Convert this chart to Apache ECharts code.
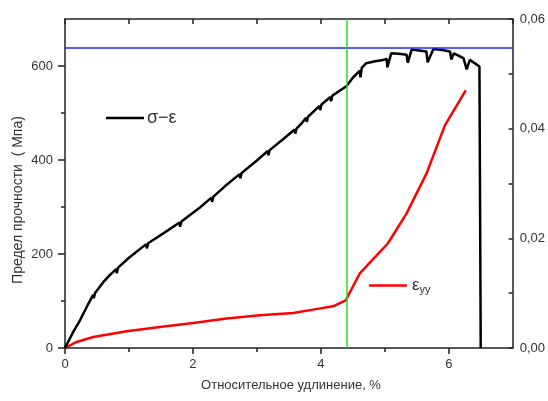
<!DOCTYPE html>
<html><head><meta charset="utf-8">
<script src="https://cdn.jsdelivr.net/npm/echarts@6/dist/echarts.min.js"></script>
<style>html,body{margin:0;padding:0;background:#fff}#c{width:548px;height:401px}</style>
</head><body><div id="c"></div>
<script>
// σ–ε curve (strain %, stress MPa)
const strainSigma = [0,0.12,0.234,0.35,0.44,0.45,0.47,0.598,0.70,0.80,0.81,0.83,1.0,1.27,1.28,1.30,1.55,1.79,1.80,1.82,2.11,2.29,2.30,2.32,2.50,2.73,2.74,2.76,3.0,3.17,3.18,3.20,3.40,3.59,3.60,3.62,3.70,3.77,3.78,3.80,3.98,3.99,4.01,4.15,4.16,4.18,4.30,4.40,4.50,4.61,4.62,4.64,4.71,4.85,4.95,5.03,5.04,5.10,5.22,5.34,5.36,5.42,5.65,5.67,5.76,5.90,6.02,6.04,6.08,6.23,6.28,6.33,6.48,6.50];
const sigmaValues = [0,32,59,90,113,106,117,140,155,168,159,171,192,221,212,223,245,267,258,269,299,320,311,322,344,370,361,372,399,419,410,421,443,465,456,467,478,490,481,492,515,506,518,534,525,537,548,557,575,590,576,596,606,610,612,615,597,627,626,624,607,635,631,608,636,634,631,614,627,617,593,613,599,0];
// ε_yy curve (strain %, ε_yy)
const strainEps = [0,0.183,0.442,0.964,1.484,2.005,2.527,3.047,3.567,3.88,4.19,4.39,4.61,5.05,5.339,5.652,5.94,6.266];
const epsValues = [0,0.0011,0.0020,0.00305,0.00383,0.00456,0.00537,0.00597,0.00639,0.0070,0.0076,0.0087,0.0136,0.0191,0.0245,0.0318,0.0406,0.0470];
// reference lines
const yieldLevel = [638];
const markStrain = [4.4];
// ticks
const xMajorTicks = [0,2,4,6];
const xMinorTicks = [1,3,5];
const xTopTicks = [0,1,2,3,4,5,6,7];
const yMajorTicks = [0,200,400,600];
const yMinorTicks = [100,300,500];
const rightTicks = [0,0.01,0.02,0.03,0.04,0.05,0.06];
const rightLabels = [0,0.02,0.04,0.06];

const sigmaData = strainSigma.map((x,i)=>[x, sigmaValues[i]]);
const epsData = strainEps.map((x,i)=>[x, epsValues[i]]);

const AX = '#222', TXT = '#333', FONT = 'Liberation Sans, Arial, sans-serif';
const chart = echarts.init(document.getElementById('c'), null, {renderer:'canvas'});
chart.setOption({
  animation:false,
  backgroundColor:'#fff',
  grid:{left:65,right:35,top:19,bottom:53},
  textStyle:{fontFamily:FONT},
  xAxis:[
    {type:'value',position:'bottom',min:0,max:7,
     axisLine:{show:true,onZero:false,lineStyle:{color:AX,width:1.5}},
     axisTick:{show:true,length:6,customValues:xMajorTicks,lineStyle:{color:AX,width:1.5}},
     axisLabel:{show:true,customValues:xMajorTicks,margin:10,fontSize:13,color:TXT,fontFamily:FONT},
     splitLine:{show:false}},
    {type:'value',position:'bottom',min:0,max:7,
     axisLine:{show:false,onZero:false},
     axisTick:{show:true,length:4,customValues:xMinorTicks,lineStyle:{color:AX,width:1.5}},
     axisLabel:{show:false},splitLine:{show:false}},
    {type:'value',position:'top',min:0,max:7,
     axisLine:{show:true,onZero:false,lineStyle:{color:AX,width:1.5}},
     axisTick:{show:true,inside:true,length:5,customValues:xTopTicks,lineStyle:{color:AX,width:1.5}},
     axisLabel:{show:false},splitLine:{show:false}}
  ],
  yAxis:[
    {type:'value',position:'left',min:0,max:700,
     axisLine:{show:true,onZero:false,lineStyle:{color:AX,width:1.5}},
     axisTick:{show:true,length:7,customValues:yMajorTicks,lineStyle:{color:AX,width:1.5}},
     axisLabel:{show:true,customValues:yMajorTicks,margin:12,fontSize:13,color:TXT,fontFamily:FONT},
     splitLine:{show:false}},
    {type:'value',position:'left',min:0,max:700,
     axisLine:{show:false,onZero:false},
     axisTick:{show:true,length:4,customValues:yMinorTicks,lineStyle:{color:AX,width:1.5}},
     axisLabel:{show:false},splitLine:{show:false}},
    {type:'value',position:'right',min:0,max:0.06,
     axisLine:{show:true,onZero:false,lineStyle:{color:AX,width:1.5}},
     axisTick:{show:true,inside:true,length:4,customValues:rightTicks,lineStyle:{color:AX,width:1.5}},
     axisLabel:{show:true,customValues:rightLabels,margin:7,fontSize:13,color:TXT,fontFamily:FONT,
       formatter:v=>v.toFixed(2).replace('.',',')},
     splitLine:{show:false}}
  ],
  legend:[
    {data:['σ−ε'],left:106,top:108,padding:0,icon:'rect',itemWidth:38,itemHeight:2.5,itemGap:0,
     textStyle:{fontSize:18,color:TXT,fontFamily:FONT,lineHeight:20,padding:[0,0,0,-2]}},
    {data:['εyy'],left:369,top:277,padding:0,icon:'rect',itemWidth:38,itemHeight:2.5,itemGap:0,
     formatter:()=>'{a|ε}{b|yy}',
     textStyle:{color:TXT,fontFamily:FONT,
       rich:{a:{fontSize:17,color:TXT,fontFamily:FONT,lineHeight:20},
             b:{fontSize:11,color:TXT,fontFamily:FONT,lineHeight:20,verticalAlign:'bottom',padding:[6,0,0,0]}}}}
  ],
  series:[
    {name:'σ−ε',type:'line',xAxisIndex:0,yAxisIndex:0,data:sigmaData,symbol:'none',
     lineStyle:{color:'#000',width:2.5},itemStyle:{color:'#000'},z:3,
     markLine:{silent:true,symbol:['none','none'],label:{show:false},
       data:[{yAxis:yieldLevel[0],lineStyle:{color:'#2323ff',width:1.5,type:'solid'}},
             {xAxis:markStrain[0],lineStyle:{color:'#22e622',width:1.5,type:'solid'}}]}},
    {name:'εyy',type:'line',xAxisIndex:0,yAxisIndex:2,data:epsData,symbol:'none',
     lineStyle:{color:'#ff0000',width:2.5},itemStyle:{color:'#ff0000'},z:2}
  ],
  graphic:[
    {type:'text',x:18,y:200,rotation:Math.PI/2,
     style:{text:'Предел прочности  ( Мпа)',fontSize:14,fill:TXT,fontFamily:FONT,align:'center',verticalAlign:'middle'}},
    {type:'text',x:291,y:385,
     style:{text:'Относительное удлинение, %',fontSize:13,fill:TXT,fontFamily:FONT,align:'center',verticalAlign:'middle'}}
  ]
});
</script></body></html>
